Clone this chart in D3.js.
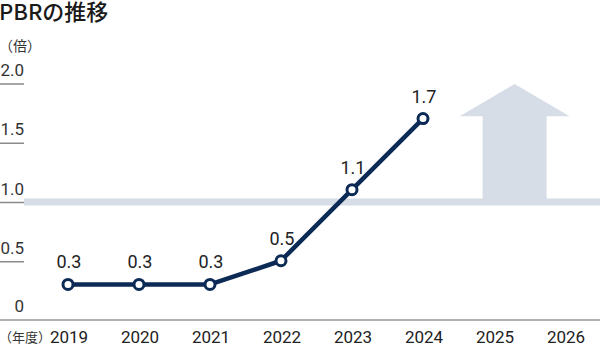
<!DOCTYPE html>
<html>
<head>
<meta charset="utf-8">
<script src="https://cdn.jsdelivr.net/npm/d3@7"></script>
<style>
  html, body { margin: 0; padding: 0; background: #fff; }
  svg { display: block; font-family: Roboto, "Noto Sans CJK JP", sans-serif; }
</style>
</head>
<body>
<svg id="chart" width="600" height="345"></svg>
<script>
// PBR by fiscal year
const years = [2019, 2020, 2021, 2022, 2023, 2024, 2025, 2026];
const actualYears = [2019, 2020, 2021, 2022, 2023, 2024];
const pbr = [0.3, 0.3, 0.3, 0.5, 1.1, 1.7];
const yTicks = [0, 0.5, 1.0, 1.5, 2.0];
const yTickLabels = ["0", "0.5", "1.0", "1.5", "2.0"];
const referenceLevel = 1.0;
const title = "PBRの推移";
const yUnit = "（倍）";
const xUnit = "（年度）";

const W = 600, H = 345;
const svg = d3.select("#chart");

const x = d3.scalePoint().domain(years).range([68, 565]);
const y = d3.scaleLinear().domain([0, 2]).range([320, 83]);
const step = x.step();

const navy = "#0b2a55";
const band = "#d6dde6";
const cjk = "'Noto Sans CJK JP', sans-serif";

// title and units
svg.append("text").attr("x", -1).attr("y", 20)
  .attr("font-size", 22).attr("font-weight", 500).attr("fill", "#1a1a1a")
  .attr("font-family", cjk)
  .text(title);
svg.append("text").attr("x", -1).attr("y", 51)
  .attr("font-size", 14).attr("fill", "#333")
  .attr("font-family", cjk)
  .text(yUnit);

// reference band at PBR 1.0
svg.append("rect")
  .attr("x", 24).attr("width", W - 24)
  .attr("y", y(referenceLevel) - 3).attr("height", 7)
  .attr("fill", band);

// upward arrow over the outlook years
const ax = x(2025) + step * 0.29;
const bodyHalf = 32, headHalf = 55;
const tipY = y(2.0) + 1, headBaseY = y(1.72), bodyBottom = y(referenceLevel);
svg.append("path")
  .attr("d", d3.line()([
    [ax - bodyHalf, bodyBottom],
    [ax - bodyHalf, headBaseY],
    [ax - headHalf, headBaseY],
    [ax, tipY],
    [ax + headHalf, headBaseY],
    [ax + bodyHalf, headBaseY],
    [ax + bodyHalf, bodyBottom]
  ]) + "Z")
  .attr("fill", band);

// y ticks: labels with short underline
const yt = svg.append("g");
yTicks.forEach((v, i) => {
  if (v !== 0) {
    yt.append("line").attr("x1", 0).attr("x2", 24)
      .attr("y1", y(v) + 1).attr("y2", y(v) + 1)
      .attr("stroke", "#8a8a8a").attr("stroke-width", 1.5);
  }
  yt.append("text").attr("x", 24).attr("y", y(v) - (v === 0 ? 8 : 7))
    .attr("text-anchor", "end").attr("font-size", 17).attr("fill", "#333")
    .text(yTickLabels[i]);
});

// x axis baseline
svg.append("line").attr("x1", 0).attr("x2", W)
  .attr("y1", y(0)).attr("y2", y(0))
  .attr("stroke", "#999").attr("stroke-width", 1.5);

// x labels
svg.append("g").selectAll("text").data(years).join("text")
  .attr("x", d => x(d) + 1).attr("y", 343)
  .attr("text-anchor", "middle").attr("font-size", 17).attr("fill", "#222")
  .text(d => d);
svg.append("text").attr("x", -1).attr("y", 342)
  .attr("font-size", 13).attr("fill", "#333")
  .attr("font-family", cjk)
  .text(xUnit);

// line series
const pts = actualYears.map((yr, i) => ({ yr, v: pbr[i] }));
svg.append("path").datum(pts)
  .attr("d", d3.line().x(d => x(d.yr)).y(d => y(d.v)))
  .attr("fill", "none").attr("stroke", navy).attr("stroke-width", 4.5)
  .attr("stroke-linejoin", "round");

svg.append("g").selectAll("circle").data(pts).join("circle")
  .attr("cx", d => x(d.yr)).attr("cy", d => y(d.v)).attr("r", 5)
  .attr("fill", "#fff").attr("stroke", navy).attr("stroke-width", 3);

// value labels
svg.append("g").selectAll("text").data(pts).join("text")
  .attr("x", d => x(d.yr) + 1).attr("y", d => y(d.v) - 16)
  .attr("text-anchor", "middle").attr("font-size", 18).attr("fill", "#222")
  .text(d => d3.format(".1f")(d.v));
</script>
</body>
</html>
